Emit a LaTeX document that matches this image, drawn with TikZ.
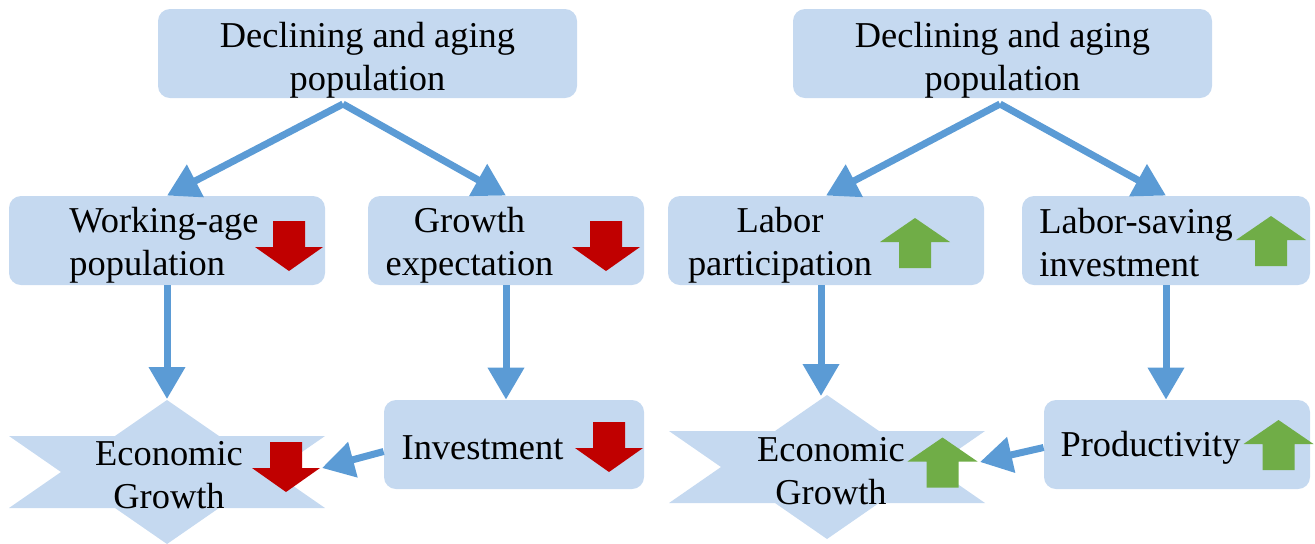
\documentclass[tikz,border=0pt]{standalone}
\usepackage{fontspec}
\setmainfont{Liberation Serif}
\usetikzlibrary{arrows.meta}

\definecolor{boxblue}{HTML}{C5D9F0}
\definecolor{flowblue}{HTML}{5B9BD5}
\definecolor{downred}{HTML}{C00000}
\definecolor{upgreen}{HTML}{70AD47}

\tikzset{
  box/.style={fill=boxblue, rounded corners=6pt, minimum height=44.5pt, inner sep=0pt},
  lbl/.style={font=\fontsize{18.2}{21.5}\selectfont, inner sep=0pt},
  flow/.style={color=flowblue, line width=3.5pt, -{Triangle[length=16pt,width=17.5pt]}},
  downmark/.pic={\fill[downred] (-16,-25) -- (16,-25) -- (16,1) -- (34,1) -- (0,25) -- (-34,1) -- (-16,1) -- cycle;},
  upmark/.pic={\fill[upgreen] (0,-25) -- (35,-1) -- (16,-1) -- (16,25) -- (-16,25) -- (-16,-1) -- (-35,-1) -- cycle;},
  growth/.pic={\fill[boxblue] (-158,-36) -- (-52,-36) -- (0,-72) -- (52,-36) -- (158,-36) -- (106,0)
     -- (158,36) -- (52,36) -- (0,72) -- (-52,36) -- (-158,36) -- (-106,0) -- cycle;}
}

\begin{document}
\begin{tikzpicture}[x=0.5pt,y=-0.5pt]
   \useasboundingbox (0,0) rectangle (1315,543);

   % left tree
   \draw (367.5,53.5) node[box, minimum width=209.5pt] (topL) {};
     \draw (167,240.5) node[box, minimum width=158pt] (workage) {};
     \draw (506,240.5) node[box, minimum width=138pt] (growexp) {};
     \draw (514,444.5) node[box, minimum width=130pt] (invest) {};
   \pic at (167,472) {growth};
   \draw (367.5,60.5) node[lbl, align=center] (topL-t) {Declining and aging\\population};
   \draw (69,245) node[lbl, anchor=west, align=left] (workage-t) {Working-age\\population};
   \draw (469.5,245) node[lbl, align=center] (growexp-t) {Growth\\expectation};
   \draw (482.5,448) node[lbl] (invest-t) {Investment};
   \draw (169,475) node[lbl, align=center] (growL) {Economic\\Growth};
   \pic at (289,246) {downmark};
   \pic at (606,246) {downmark};
   \pic at (609,447) {downmark};
   \pic at (286,467) {downmark};

   % right tree
   \draw (1002.5,53.5) node[box, minimum width=209.5pt] (topR) {};
     \draw (826,240.5) node[box, minimum width=158pt] (labpart) {};
     \draw (1166,240.5) node[box, minimum width=144pt] (labsav) {};
     \draw (1177,444.5) node[box, minimum width=133pt] (product) {};
   \pic at (827,467) {growth};
   \draw (1002.5,60.5) node[lbl, align=center] (topR-t) {Declining and aging\\population};
   \draw (780,245) node[lbl, align=center] (labpart-t) {Labor\\participation};
   \draw (1039,243) node[lbl, anchor=west, align=left] (labsav-t) {Labor-saving\\investment};
   \draw (1150.5,448) node[lbl] (product-t) {Productivity};
   \draw (831,471) node[lbl, align=center] (growR) {Economic\\Growth};
   \pic at (915,243) {upmark};
   \pic at (1271,241) {upmark};
   \pic at (1278.5,445) {upmark};
   \pic at (942.5,462.5) {upmark};

   \coordinate (splitL) at (343,104);
   \coordinate (splitR) at (1000,104);
   \coordinate (growL-top) at (167,399);
   \coordinate (growL-east) at (322,468);
   \coordinate (growR-top) at (821,396);
   \coordinate (growR-east) at (980,462);

     \draw[flow] (splitL) -- (workage.north);
     \draw[flow] (splitL) -- (growexp.north);
     \draw[flow] (workage.south) -- (growL-top);
     \draw[flow] (growexp.south) -- (growexp.south |- invest.north);
     \draw[flow] ([yshift=-3.5pt]invest.west) -- (growL-east);

     \draw[flow] (splitR) -- (labpart.north);
     \draw[flow] (splitR) -- (labsav.north);
     \draw[flow] (labpart.south -| growR-top) -- (growR-top);
     \draw[flow] (labsav.south) -- (labsav.south |- product.north);
     \draw[flow] ([yshift=-1.5pt]product.west) -- (growR-east);
\end{tikzpicture}
\end{document}
